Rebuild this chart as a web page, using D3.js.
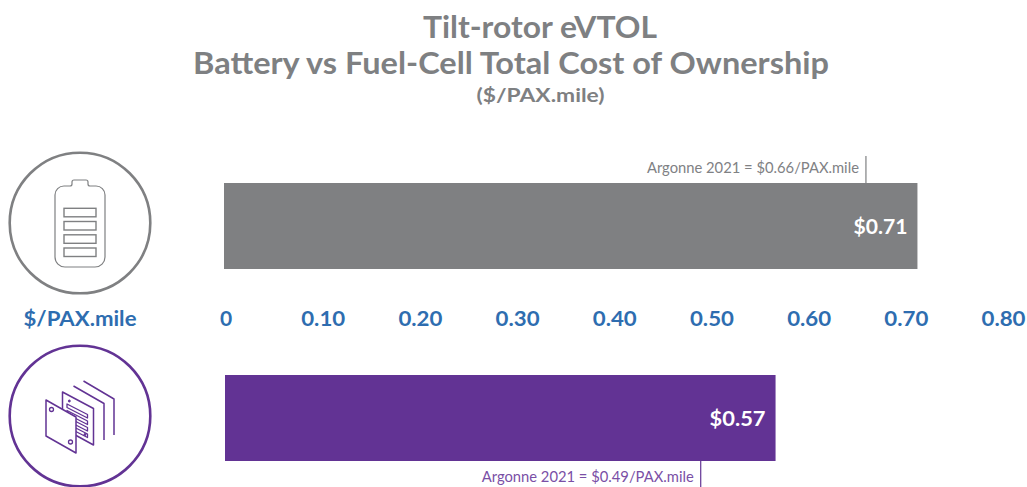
<!DOCTYPE html>
<html><head><meta charset="utf-8">
<script src="https://cdn.jsdelivr.net/npm/d3@7/dist/d3.min.js"></script>
<style>html,body{margin:0;padding:0;background:#fff}svg{display:block}text{font-family:Lato,"Noto Sans",sans-serif}</style>
</head><body><svg id="c" width="1027" height="487"></svg>
<script>
const titleLines = ["Tilt-rotor eVTOL","Battery vs Fuel-Cell Total Cost of Ownership"];
const subtitle = "($/PAX.mile)";
const axisLabel = "$/PAX.mile";
const tickValues = [0,0.1,0.2,0.3,0.4,0.5,0.6,0.7,0.8];
const tickLabels = ["0","0.10","0.20","0.30","0.40","0.50","0.60","0.70","0.80"];
const categories = ["Battery","Fuel-Cell"];
const barValues = [0.713,0.567];
const barLabels = ["$0.71","$0.57"];
const refValues = [0.66,0.49];
const refLabels = ["Argonne 2021 = $0.66/PAX.mile","Argonne 2021 = $0.49/PAX.mile"];
const colors = ["#7f8082","#623394"];
const refTextColors = ["#808184","#7A4FA6"];
const titleColor = "#7e8082";
const axisColor = "#2e6db0";

const svg = d3.select("#c");
const x = d3.scaleLinear().domain([0,0.8]).range([224.5,1002]);
const y = d3.scaleOrdinal().domain(categories).range([183,375]);
const barH = 86;

function fit(sel,w){sel.attr("textLength",w).attr("lengthAdjust","spacingAndGlyphs");return sel;}

// Titles
fit(svg.append("text").attr("x",540).attr("y",37.5).attr("text-anchor","middle").attr("font-size",30).attr("font-weight",700).attr("fill",titleColor).text(titleLines[0]),234);
fit(svg.append("text").attr("x",511).attr("y",73.5).attr("text-anchor","middle").attr("font-size",30).attr("font-weight",700).attr("fill",titleColor).text(titleLines[1]),636);
fit(svg.append("text").attr("x",540.5).attr("y",102).attr("text-anchor","middle").attr("font-size",18).attr("font-weight",700).attr("fill",titleColor).text(subtitle),128);

// Bars
categories.forEach((c,i)=>{
  const x0 = x(0)+(i?0.5:-0.5);
  svg.append("rect").attr("x",x0).attr("y",y(c)).attr("width",x(barValues[i])-x0).attr("height",barH).attr("fill",colors[i]);
  svg.append("text").attr("x",x(barValues[i])-10).attr("y",y(c)+barH/2+8).attr("text-anchor","end")
    .attr("font-size",21).attr("font-weight",700).attr("fill","#fff").call(fit,i?56:54).text(barLabels[i]);
});

// Reference markers
const refY = [[156,183],[461,487]];
const refTextY = [173,482];
const refTextW = [212,212];
categories.forEach((c,i)=>{
  svg.append("line").attr("x1",x(refValues[i])).attr("x2",x(refValues[i])).attr("y1",refY[i][0]).attr("y2",refY[i][1])
    .attr("stroke",colors[i]).attr("stroke-width",1.2);
  svg.append("text").attr("x",x(refValues[i])-7).attr("y",refTextY[i]).attr("text-anchor","end")
    .attr("font-size",14.5).attr("fill",refTextColors[i]).call(fit,refTextW[i]).text(refLabels[i]);
});

// Axis (labels only)
const axis = d3.axisBottom(x).tickValues(tickValues).tickFormat((d,i)=>tickLabels[i]).tickSize(0).tickPadding(0);
const ag = svg.append("g").attr("transform","translate(1,311)").call(axis);
ag.select(".domain").remove();
ag.selectAll("text").attr("font-size",21).attr("font-weight",700).attr("fill",axisColor).style("font-family",'Lato,"Noto Sans",sans-serif').attr("dy",15);
ag.selectAll("text").filter((d,i)=>i>0).attr("textLength",44).attr("lengthAdjust","spacingAndGlyphs");
fit(svg.append("text").attr("x",80).attr("y",326).attr("text-anchor","middle").attr("font-size",21).attr("font-weight",700).attr("fill",axisColor).text(axisLabel),113);

// Battery icon
const bi = svg.append("g").attr("fill","none").attr("stroke",colors[0]);
bi.append("circle").attr("cx",80).attr("cy",223).attr("r",70.3).attr("stroke-width",2.6);
bi.append("path").attr("stroke-width",1.2).attr("d","M55 195a9 9 0 0 1 9-9h6a2 2 0 0 0 2-2v-2a2 2 0 0 1 2-2h12a2 2 0 0 1 2 2v2a2 2 0 0 0 2 2h6a9 9 0 0 1 9 9v62a10 10 0 0 1-10 10h-30a10 10 0 0 1-10-10z");
[208.3,221.5,234.8,248].forEach(yy=>bi.append("rect").attr("x",64).attr("y",yy).attr("width",32).attr("height",8.5).attr("stroke-width",1.4));

// Fuel-cell icon
const fi = svg.append("g").attr("fill","none").attr("stroke",colors[1]).attr("stroke-linejoin","round");
fi.append("circle").attr("cx",80).attr("cy",416).attr("r",70.3).attr("stroke-width",2.6);
fi.append("path").attr("stroke-width",1.5).attr("d","M83.5 381L114 399V435");
fi.append("path").attr("stroke-width",1.5).attr("d","M73.5 386L104 403.5V440");
fi.append("path").attr("stroke-width",1.5).attr("d","M62.5 392L93.5 408.5V445L62.5 428Z");
[0,6.5,13,19.5].forEach(d=>fi.append("path").attr("stroke-width",1.3).attr("d",`M67 ${404+d}L87.5 ${414.5+d}V${418+d}L67 ${407.5+d}Z`));
fi.append("circle").attr("cx",69.3).attr("cy",401).attr("r",1).attr("fill",colors[1]);
fi.append("circle").attr("cx",85).attr("cy",434.5).attr("r",1).attr("fill",colors[1]);
fi.append("path").attr("stroke-width",1.5).attr("fill","#fff").attr("d","M46 400L76 417V453L46 436Z");
fi.append("circle").attr("cx",51.5).attr("cy",409.5).attr("r",2).attr("stroke-width",1.3);
fi.append("circle").attr("cx",70.5).attr("cy",442).attr("r",2).attr("stroke-width",1.3);
</script></body></html>
